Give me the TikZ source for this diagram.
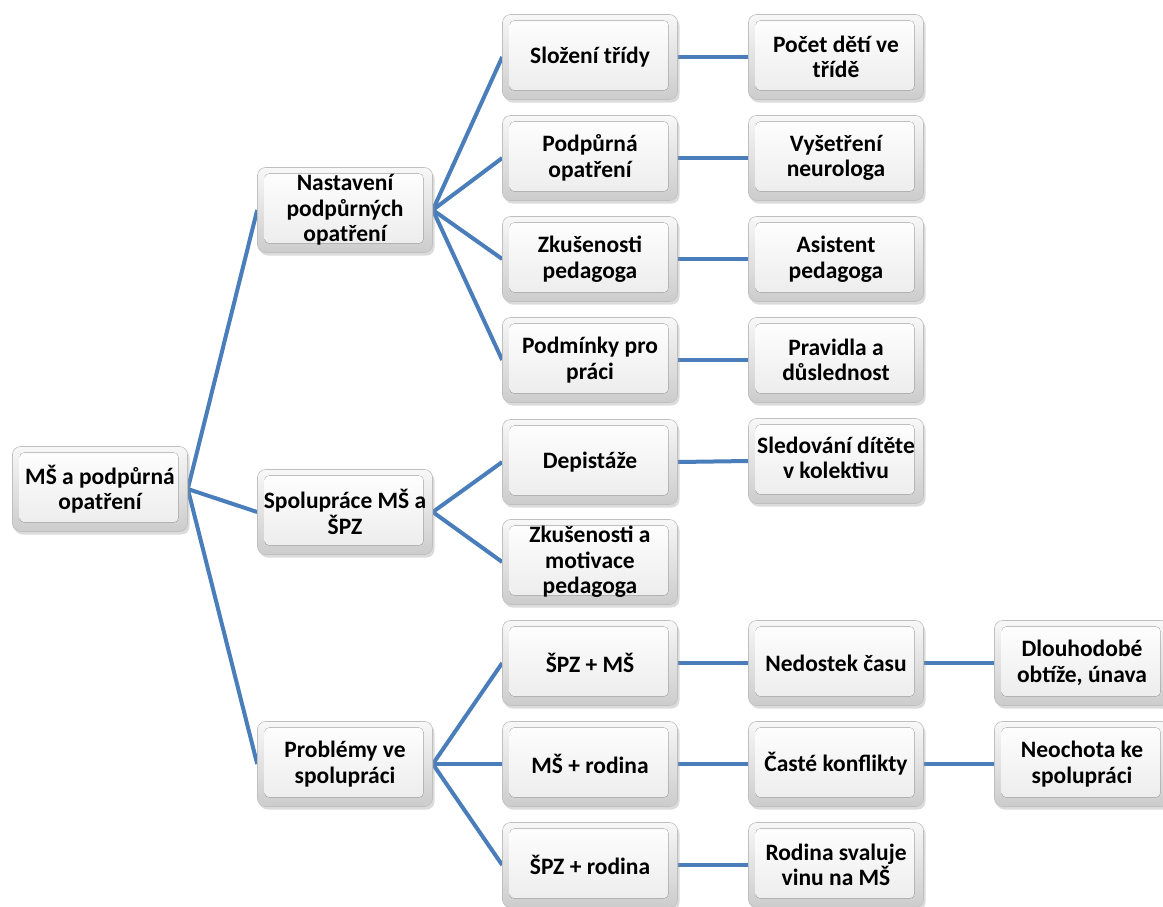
\documentclass[tikz,border=0pt]{standalone}
\usepackage{fontspec}
\setmainfont{Carlito}
\usetikzlibrary{shadows}
\definecolor{conn}{RGB}{74,126,187}
\pgfdeclarelayer{bg}
\pgfsetlayers{bg,main}
\tikzset{
  box/.style={
    rounded corners=8pt, draw=gray!50, line width=0.6pt,
    top color=gray!6, bottom color=gray!40,
    minimum width=175pt, minimum height=85pt,
    align=center, inner sep=2pt,
    font=\bfseries\fontsize{23.5}{25.5}\selectfont,
    drop shadow={shadow xshift=2pt, shadow yshift=-3pt, opacity=0.35, fill=gray!80},
    path picture={
      \fill[rounded corners=5pt, top color=white, bottom color=gray!16]
        ([shift={(7pt,-6pt)}]path picture bounding box.north west) rectangle
        ([shift={(-9pt,9pt)}]path picture bounding box.south east);
    }
  },
  conline/.style={draw=conn, line width=4pt}
}
\begin{document}
\begin{tikzpicture}[x=1pt,y=-1pt]
\useasboundingbox (0,0) rectangle (1163,906);
% column 1
\node[box] (root) at (100,489) {MŠ a podpůrná\\opatření};
% column 2
\node[box] (n1) at (345,210) {Nastavení\\podpůrných\\opatření};
\node[box] (n2) at (345,512) {Spolupráce MŠ a\\ŠPZ};
\node[box] (n3) at (345,764) {Problémy ve\\spolupráci};
% column 3
\node[box] (c1) at (590,57) {Složení třídy};
\node[box] (c2) at (590,158) {Podpůrná\\opatření};
\node[box] (c3) at (590,259) {Zkušenosti\\pedagoga};
\node[box] (c4) at (590,360) {Podmínky pro\\práci};
\node[box] (c5) at (590,462) {Depistáže};
\node[box] (c6) at (590,562) {Zkušenosti a\\motivace\\pedagoga};
\node[box] (c7) at (590,663) {ŠPZ + MŠ};
\node[box] (c8) at (590,764) {MŠ + rodina};
\node[box] (c9) at (590,865) {ŠPZ + rodina};
% column 4
\node[box] (d1) at (836,57) {Počet dětí ve\\třídě};
\node[box] (d2) at (836,158) {Vyšetření\\neurologa};
\node[box] (d3) at (836,259) {Asistent\\pedagoga};
\node[box] (d4) at (836,360) {Pravidla a\\důslednost};
\node[box] (d5) at (836,461) {\raisebox{4pt}{\begin{tabular}{@{}c@{}}Sledování dítěte\\v kolektivu\end{tabular}}};
\node[box] (d7) at (836,663) {Nedostek času};
\node[box] (d8) at (836,764) {Časté konflikty};
\node[box] (d9) at (836,865) {Rodina svaluje\\vinu na MŠ};
% column 5
\node[box] (e7) at (1082,663) {Dlouhodobé\\obtíže, únava};
\node[box] (e8) at (1082,764) {Neochota ke\\spolupráci};
% connectors
\begin{pgfonlayer}{bg}
\foreach \p/\c in {root/n1,root/n2,root/n3,
  n1/c1,n1/c2,n1/c3,n1/c4,
  n2/c5,n2/c6,
  n3/c7,n3/c8,n3/c9,
  c1/d1,c2/d2,c3/d3,c4/d4,c5/d5,c7/d7,c8/d8,c9/d9,
  d7/e7,d8/e8}
  \draw[conline] (\p.east) -- (\c.west);
\end{pgfonlayer}
\end{tikzpicture}
\end{document}
